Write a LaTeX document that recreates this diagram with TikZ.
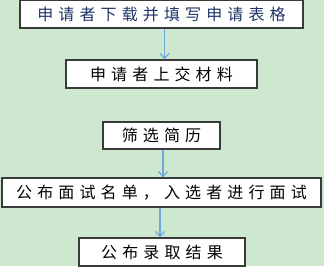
\documentclass[tikz,border=0pt]{standalone}
\usepackage{fontspec}
\usetikzlibrary{arrows.meta}
\newfontfamily\cjk{Noto Sans CJK SC}[LetterSpace=32]
\definecolor{bggreen}{HTML}{CDE8CF}
\definecolor{arrowblue}{HTML}{6FA8DC}
\definecolor{boxedge}{HTML}{3A3A3A}
\definecolor{navytext}{HTML}{1F3468}
\newcommand{\trail}{\hspace{-5.1pt}}
\begin{document}
\begin{tikzpicture}[x=1pt,y=-1pt,
  stepbox/.style={draw=boxedge,line width=1.2pt,fill=white,inner sep=0pt,
    font=\cjk\fontsize{16pt}{18pt}\selectfont,text=black},
  flow/.style={draw=arrowblue,line width=1.2pt,-{Straight Barb[length=5pt,width=9pt]}}]
\fill[bggreen] (0,0) rectangle (324,266);
\useasboundingbox (0,0) rectangle (324,266);
\node[stepbox,minimum width=283pt,minimum height=27.5pt,text=navytext] (b1) at (161.5,14.25) {申请者下载并填写申请表格\trail};
\node[stepbox,minimum width=191pt,minimum height=28pt] (b2) at (161.5,74) {申请者上交材料\trail};
\node[stepbox,minimum width=117pt,minimum height=27pt] (b3) at (161.5,135.5) {筛选简历\trail};
\node[stepbox,minimum width=319pt,minimum height=29pt] (b4) at (161.5,192.5) {公布面试名单，入选者进行面试\trail};
\node[stepbox,minimum width=166pt,minimum height=28pt] (b5) at (162,252) {公布录取结果\trail};
\draw[flow] ([xshift=3pt]b1.south) -- ([xshift=3pt]b2.north);
\draw[flow] ([xshift=1.5pt]b3.south) -- ([xshift=1.5pt]b4.north);
\draw[flow] ([xshift=-1.5pt]b4.south) -- ([xshift=-2pt]b5.north);
\end{tikzpicture}
\end{document}
